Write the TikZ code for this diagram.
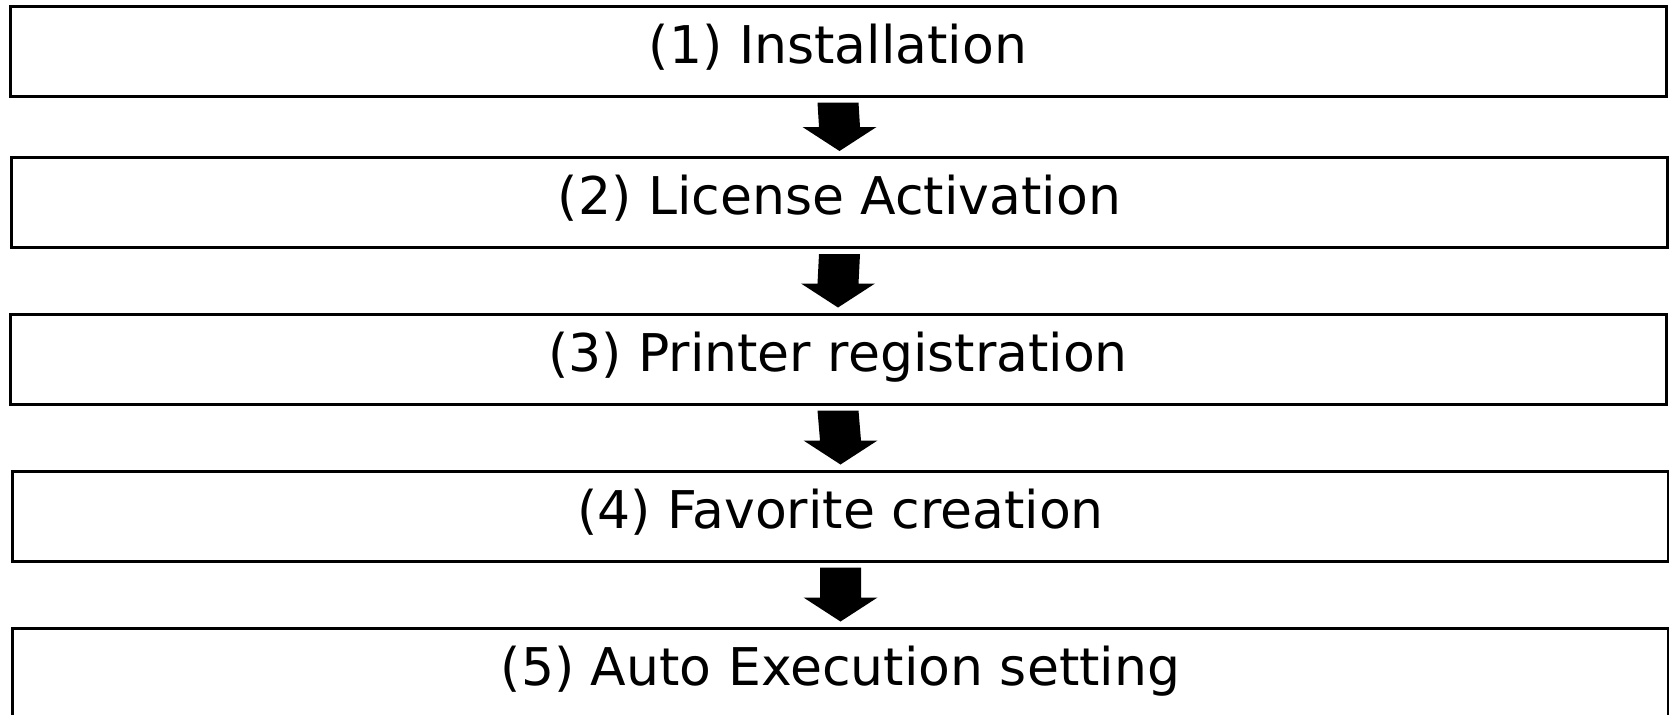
\documentclass[tikz,border=0pt]{standalone}
\usepackage{fontspec}
\setmainfont{DejaVu Sans}
\usetikzlibrary{calc}

\tikzset{
  stepbox/.style={draw=black, line width=2.25pt, minimum width=1242pt, minimum height=67.5pt,
    font=\fontsize{39}{47}\selectfont, text height=27pt, text depth=9pt},
  flowfill/.style={fill=black}
}
% block arrow from the bottom of one box to the top of the next
\newcommand{\flowarrow}[2]{%
  \fill[flowfill] ($(#1.south)+(-20.5,5)$) -- ($(#1.south)+(20.5,5)$)
    -- ($(#2.north)+(20.5,-29)$) -- ($(#2.north)+(37,-29)$) -- ($(#2.north)+(0,-5)$)
    -- ($(#2.north)+(-37,-29)$) -- ($(#2.north)+(-20.5,-29)$) -- cycle;}

\begin{document}
\begin{tikzpicture}[x=0.75pt,y=-0.75pt]
    \useasboundingbox (0,0) rectangle (1669,714);
    % the five steps
    \node[stepbox] (install)  at (838,51)    {(1) Installation};
    \node[stepbox] (license)  at (839.5,202.5) {(2) License Activation};
    \node[stepbox] (printer)  at (838,359)   {(3) Printer registration};
    \node[stepbox] (favorite) at (840.5,516) {(4) Favorite creation};
    \node[stepbox] (autoexec) at (840.5,673) {(5) Auto Execution setting};
    % arrows between them
    \flowarrow{install}{license}
    \flowarrow{license}{printer}
    \flowarrow{printer}{favorite}
    \flowarrow{favorite}{autoexec}
\end{tikzpicture}
\end{document}
